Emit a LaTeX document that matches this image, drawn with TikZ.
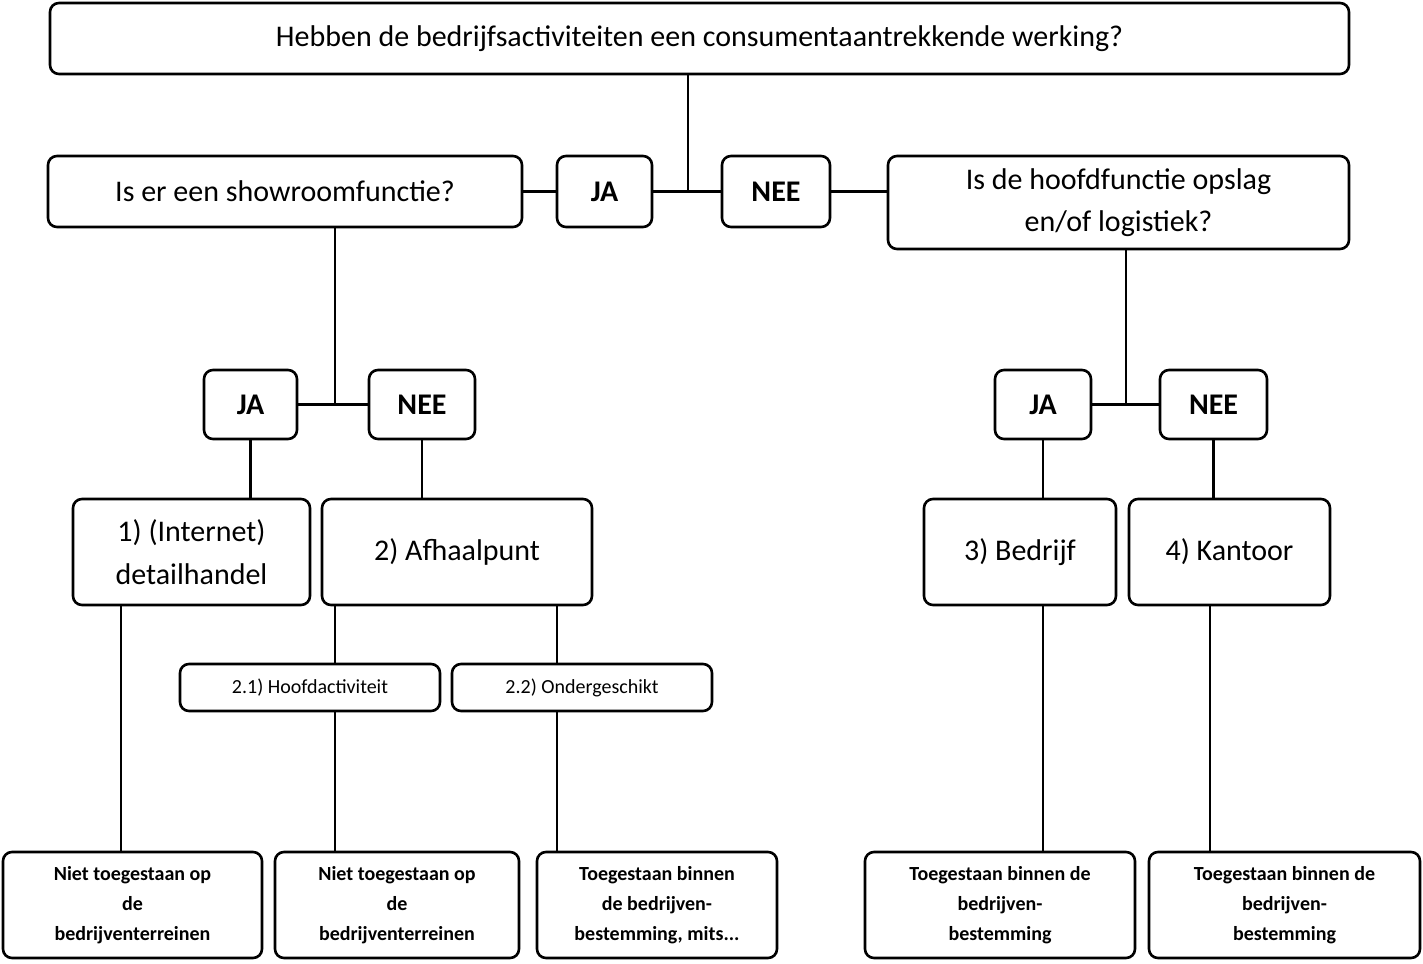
\documentclass[tikz,border=0pt]{standalone}
\usepackage{fontspec}
\setmainfont{Carlito}
\begin{document}
\begin{tikzpicture}[x=1pt,y=-1pt,
  bx/.style={draw,line width=2.6pt,rounded corners=9pt,align=center,inner sep=0pt},
  ln/.style={line width=2.6pt}]
\useasboundingbox (0,0) rectangle (1423,963);
\newcommand{\bx}[6]{\node[bx,minimum width=#3-#2,minimum height=#5-#4,font=#6] (#1) at ({(#2+#3)/2},{(#4+#5)/2}) {};}
\node[bx,minimum width=1299,minimum height=71,font=\fontsize{30}{36}\selectfont] (t) at (699.5,38.5) {Hebben de bedrijfsactiviteiten een consumentaantrekkende werking?};
\node[bx,minimum width=474,minimum height=71,font=\fontsize{30}{36}\selectfont] (q1) at (285,191.5) {Is er een showroomfunctie?};
\node[bx,minimum width=95,minimum height=71,font=\bfseries\fontsize{30}{36}\selectfont] (ja0) at (604.5,191.5) {JA};
\node[bx,minimum width=108,minimum height=71,font=\bfseries\fontsize{30}{36}\selectfont] (nee0) at (776,191.5) {NEE};
\node[bx,minimum width=461,minimum height=93,font=\fontsize{30}{42}\selectfont] (q2) at (1118.5,202.5) {Is de hoofdfunctie opslag\\en/of logistiek?};
\node[bx,minimum width=93,minimum height=69,font=\bfseries\fontsize{30}{36}\selectfont] (ja1) at (250.5,404.5) {JA};
\node[bx,minimum width=106,minimum height=69,font=\bfseries\fontsize{30}{36}\selectfont] (nee1) at (422,404.5) {NEE};
\node[bx,minimum width=96,minimum height=69,font=\bfseries\fontsize{30}{36}\selectfont] (ja2) at (1043,404.5) {JA};
\node[bx,minimum width=107,minimum height=69,font=\bfseries\fontsize{30}{36}\selectfont] (nee2) at (1213.5,404.5) {NEE};
\node[bx,minimum width=237,minimum height=106,font=\fontsize{30}{43}\selectfont] (r1) at (191.5,552) {1) (Internet)\\detailhandel};
\node[bx,minimum width=270,minimum height=106,font=\fontsize{30}{36}\selectfont] (r2) at (457,552) {2) Afhaalpunt};
\node[bx,minimum width=192,minimum height=106,font=\fontsize{30}{36}\selectfont] (r3) at (1020,552) {3) Bedrijf};
\node[bx,minimum width=201,minimum height=106,font=\fontsize{30}{36}\selectfont] (r4) at (1229.5,552) {4) Kantoor};
\node[bx,minimum width=260,minimum height=47,font=\fontsize{20}{24}\selectfont] (s1) at (310,687.5) {2.1) Hoofdactiviteit};
\node[bx,minimum width=260,minimum height=47,font=\fontsize{20}{24}\selectfont] (s2) at (582,687.5) {2.2) Ondergeschikt};
\tikzset{bt/.style={bx,minimum height=106,font=\bfseries\fontsize{20}{30}\selectfont}}
\node[bt,minimum width=259] (b1) at (132.5,905) {Niet toegestaan op\\de\\bedrijventerreinen};
\node[bt,minimum width=244] (b2) at (397,905) {Niet toegestaan op\\de\\bedrijventerreinen};
\node[bt,minimum width=240] (b3) at (657,905) {Toegestaan binnen\\de bedrijven-\\bestemming, mits...};
\node[bt,minimum width=270] (b4) at (1000,905) {Toegestaan binnen de\\bedrijven-\\bestemming};
\node[bt,minimum width=271] (b5) at (1284.5,905) {Toegestaan binnen de\\bedrijven-\\bestemming};
\draw[ln] (t.south -| 688,0) -- (688,190);
\draw[ln] (q1.east) -- (ja0.west);
\draw[ln] (ja0.east) -- (nee0.west);
\draw[ln] (nee0.east) -- (q2.west |- nee0.east);
\draw[ln] (q1.south -| 335,0) -- (335,403);
\draw[ln] (ja1.east) -- (nee1.west);
\draw[ln] (q2.south -| 1126,0) -- (1126,403);
\draw[ln] (ja2.east) -- (nee2.west);
\draw[ln] (ja1) -- (ja1 |- r1.north);
\draw[ln] (nee1) -- (nee1 |- r2.north);
\draw[ln] (ja2) -- (ja2 |- r3.north);
\draw[ln] (nee2.south) -- (nee2.south |- r4.north);
\draw[ln] (r1.south -| 121,0) -- (b1.north -| 121,0);
\draw[ln] (r2.south -| 335,0) -- (s1.north -| 335,0);
\draw[ln] (s1.south -| 335,0) -- (b2.north -| 335,0);
\draw[ln] (r2.south -| 557,0) -- (s2.north -| 557,0);
\draw[ln] (s2.south -| 557,0) -- (b3.north -| 557,0);
\draw[ln] (r3.south -| 1043,0) -- (b4.north -| 1043,0);
\draw[ln] (r4.south -| 1210,0) -- (b5.north -| 1210,0);
\end{tikzpicture}
\end{document}
